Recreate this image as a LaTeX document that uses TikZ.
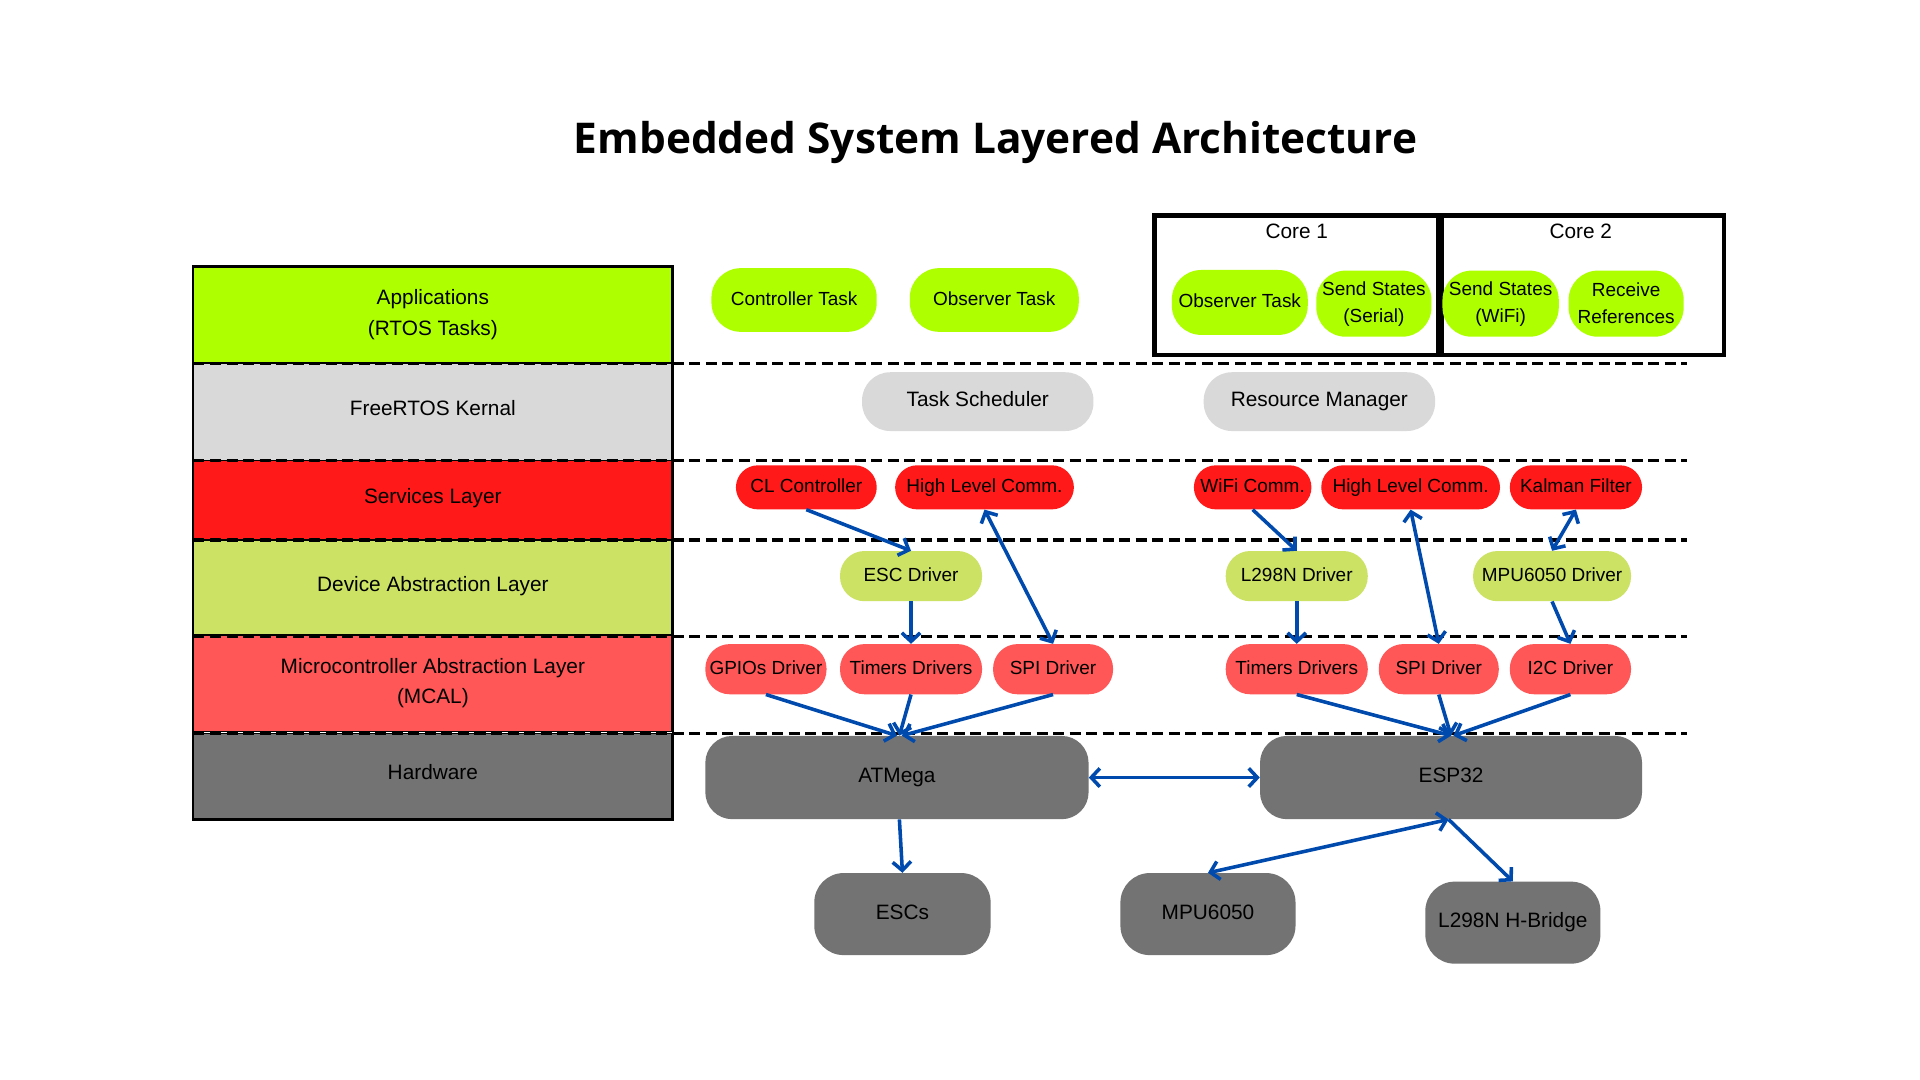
\documentclass[tikz,border=0pt]{standalone}
\usepackage{fontspec}
\setmainfont{Liberation Sans}
\newfontfamily\titlefont{Open Sans}
\usetikzlibrary{arrows.meta}
\definecolor{appgreen}{RGB}{174,255,0}
\definecolor{kgray}{RGB}{217,217,217}
\definecolor{svred}{RGB}{255,25,25}
\definecolor{devgreen}{RGB}{203,226,100}
\definecolor{mcalred}{RGB}{255,87,87}
\definecolor{hwgray}{RGB}{115,115,115}
\definecolor{arrowblue}{RGB}{0,74,173}
\tikzset{
  lay/.style={draw=black, line width=1.3pt, minimum width=391pt, inner sep=0pt, align=center, font=\fontsize{17}{25}\selectfont},
  pill/.style={shape=rectangle, inner sep=0pt, align=center, rounded corners=#1, font=\fontsize{15.5}{22}\selectfont},
  pill/.default=18pt,
  sl/.style={text height=0.82em, text depth=0em},
  slay/.style={text height=0.72em, text depth=0.2em},
  big/.style={font=\fontsize{17}{22}\selectfont},
  sep/.style={draw=black, line width=2.8pt, dash pattern=on 9pt off 4.5pt},
  corebox/.style={draw=black, line width=3.8pt},
  arr/.style={draw=arrowblue, line width=2.9pt, ->},
  darr/.style={draw=arrowblue, line width=2.9pt, <->},
  >={Straight Barb[length=7pt,width=15pt]}
}
\begin{document}
\begin{tikzpicture}[x=1pt,y=-1pt]
\useasboundingbox[fill=white] (0,0) rectangle (1568,882);

\node[font=\titlefont\bfseries\fontsize{34.6}{40}\selectfont] (title) at (813,116) {Embedded System Layered Architecture};

% layers
\node[lay, fill=appgreen, minimum height=78pt] (lapp) at (353.5,257) {Applications\\(RTOS Tasks)};
\node[lay, slay, fill=kgray, minimum height=79pt] (lrtos) at (353.5,336.5) {FreeRTOS Kernal};
\node[lay, slay, fill=svred, minimum height=65pt] (lsrv) at (353.5,408.5) {Services Layer};
\node[lay, slay, fill=devgreen, minimum height=79pt] (ldev) at (353.5,480.5) {Device Abstraction Layer};
\node[lay, fill=mcalred, minimum height=79pt] (lmcal) at (353.5,558) {Microcontroller Abstraction Layer\\(MCAL)};
\node[lay, slay, fill=hwgray, minimum height=70pt] (lhw) at (353.5,634) {Hardware};
\draw[black, line width=1.3pt] (lapp.north west) rectangle (lhw.south east);

% separators
\foreach \yy in {297,376,441,520,599} \draw[sep] (158,\yy) -- (1378,\yy);

% core boxes
\draw[corebox] (943,176) rectangle (1175,290);
\draw[corebox] (1177,176) rectangle (1408,290);
\node[big, sl] (c1) at (1059,191) {Core 1};
\node[big, sl] (c2) at (1291,191) {Core 2};

% applications
\node[pill=24pt, sl, fill=appgreen, minimum width=135pt, minimum height=52pt] (ct) at (648.5,245) {Controller Task};
\node[pill=24pt, sl, fill=appgreen, minimum width=138pt, minimum height=52pt] (ot) at (812,245) {Observer Task};
\node[pill=24pt, sl, fill=appgreen, minimum width=111pt, minimum height=53pt] (ot2) at (1012.5,247) {Observer Task};
\node[pill=24pt, fill=appgreen, minimum width=94pt, minimum height=54pt] (sss) at (1122,248) {Send States\\(Serial)};
\node[pill=24pt, fill=appgreen, minimum width=95pt, minimum height=54pt] (ssw) at (1225.5,248) {Send States\\(WiFi)};
\node[pill=24pt, fill=appgreen, minimum width=94pt, minimum height=54pt] (rr) at (1328,248) {Receive\\References};

% kernel
\node[pill=23pt, big, sl, fill=kgray, minimum width=189pt, minimum height=48pt] (ts) at (798.5,328) {Task Scheduler};
\node[pill=23pt, big, sl, fill=kgray, minimum width=189pt, minimum height=48pt] (rm) at (1077.5,328) {Resource Manager};

% services
\node[pill, sl, fill=svred, minimum width=115pt, minimum height=36pt] (cl) at (658.5,398) {CL Controller};
\node[pill, sl, fill=svred, minimum width=146pt, minimum height=36pt] (hl1) at (804,398) {High Level Comm.};
\node[pill, sl, fill=svred, minimum width=96pt, minimum height=36pt] (wifi) at (1023,398) {WiFi Comm.};
\node[pill, sl, fill=svred, minimum width=146pt, minimum height=36pt] (hl2) at (1152,398) {High Level Comm.};
\node[pill, sl, fill=svred, minimum width=108pt, minimum height=36pt] (kal) at (1287,398) {Kalman Filter};

% device
\node[pill=20pt, sl, fill=devgreen, minimum width=116pt, minimum height=41pt] (esc) at (744,470.5) {ESC Driver};
\node[pill=20pt, sl, fill=devgreen, minimum width=116pt, minimum height=41pt] (l298d) at (1059,470.5) {L298N Driver};
\node[pill=20pt, sl, fill=devgreen, minimum width=129pt, minimum height=41pt] (mpud) at (1267.5,470.5) {MPU6050 Driver};

% mcal
\node[pill=20pt, sl, fill=mcalred, minimum width=99pt, minimum height=41pt] (gpio) at (625.5,546.5) {GPIOs Driver};
\node[pill=20pt, sl, fill=mcalred, minimum width=116pt, minimum height=41pt] (tim1) at (744,546.5) {Timers Drivers};
\node[pill=20pt, sl, fill=mcalred, minimum width=98pt, minimum height=41pt] (spi1) at (860,546.5) {SPI Driver};
\node[pill=20pt, sl, fill=mcalred, minimum width=116pt, minimum height=41pt] (tim2) at (1059,546.5) {Timers Drivers};
\node[pill=20pt, sl, fill=mcalred, minimum width=98pt, minimum height=41pt] (spi2) at (1175,546.5) {SPI Driver};
\node[pill=20pt, sl, fill=mcalred, minimum width=99pt, minimum height=41pt] (i2c) at (1282.5,546.5) {I2C Driver};

% hardware
\node[pill=22pt, big, sl, fill=hwgray, minimum width=313pt, minimum height=68pt] (atm) at (732.5,635) {ATMega};
\node[pill=22pt, big, sl, fill=hwgray, minimum width=312pt, minimum height=68pt] (esp) at (1185,635) {ESP32};
\node[pill=24pt, big, sl, fill=hwgray, minimum width=144pt, minimum height=67pt] (escs) at (737,746.5) {ESCs};
\node[pill=24pt, big, sl, fill=hwgray, minimum width=143pt, minimum height=67pt] (mpu) at (986.5,746.5) {MPU6050};
\node[pill=24pt, big, sl, fill=hwgray, minimum width=143pt, minimum height=67pt] (hb) at (1235.5,753.5) {L298N H-Bridge};

% connectors
\draw[arr] (cl.south) -- (esc.north);
\draw[darr] (hl1.south) -- (spi1.north);
\draw[arr] (esc.south) -- (tim1.north);
\draw[arr] (gpio.south) -- (atm.north);
\draw[arr] (tim1.south) -- ([xshift=2pt]atm.north);
\draw[arr] (spi1.south) -- ([xshift=4pt]atm.north);
\draw[arr] (wifi.south) -- (l298d.north);
\draw[darr] (hl2.south) -- (spi2.north);
\draw[darr] (kal.south) -- (mpud.north);
\draw[arr] (l298d.south) -- (tim2.north);
\draw[arr] (mpud.south) -- (i2c.north);
\draw[arr] (tim2.south) -- (esp.north);
\draw[arr] (spi2.south) -- (esp.north);
\draw[arr] (i2c.south) -- ([xshift=2pt]esp.north);
\draw[darr] (atm.east) -- (esp.west);
\draw[arr] ([xshift=2pt]atm.south) -- (escs.north);
\draw[darr] ([xshift=-2pt]esp.south) -- (mpu.north);
\draw[arr] ([xshift=-2pt]esp.south) -- (hb.north);
\end{tikzpicture}
\end{document}
